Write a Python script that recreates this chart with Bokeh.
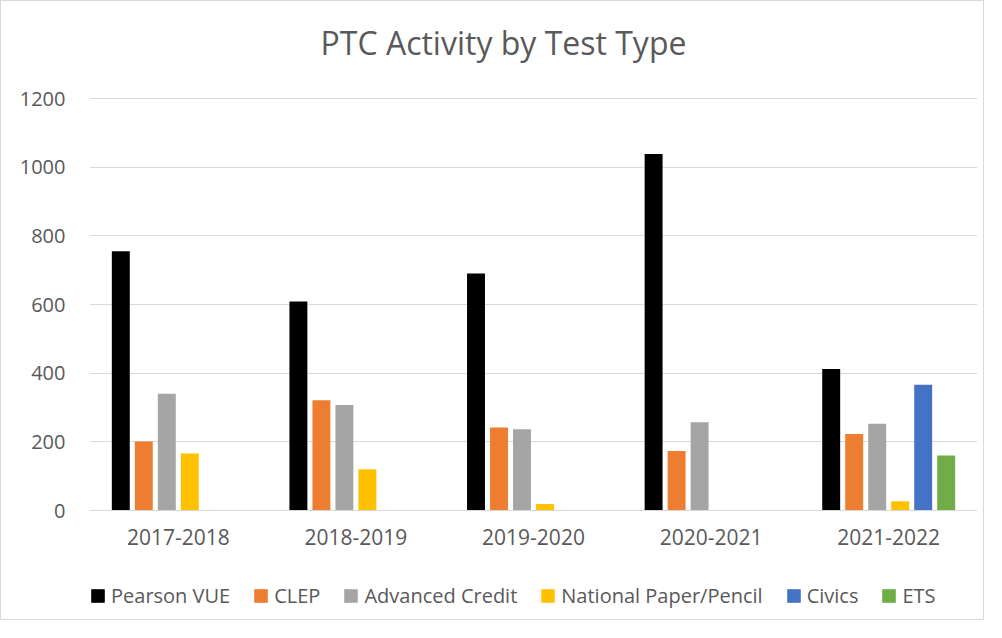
from bokeh.plotting import figure
from bokeh.models import ColumnDataSource, FactorRange, Range1d, Legend, LegendItem, Label
from bokeh.transform import dodge
from bokeh.embed import file_html
from bokeh.resources import INLINE

years = ["2017-2018", "2018-2019", "2019-2020", "2020-2021", "2021-2022"]
series = ["Pearson VUE", "CLEP", "Advanced Credit", "National Paper/Pencil", "Civics", "ETS"]
pearson_vue = [755, 609, 690, 1038, 412]
clep = [201, 321, 242, 173, 223]
advanced_credit = [340, 307, 237, 257, 253]
national_paper_pencil = [166, 120, 19, 0, 27]
civics = [0, 0, 0, 0, 366]
ets = [0, 0, 0, 0, 160]
colors = ["#000000", "#ED7D31", "#A5A5A5", "#FFC000", "#4472C4", "#70AD47"]
y_ticks = [0, 200, 400, 600, 800, 1000, 1200]
title_text = "PTC Activity by Test Type"

FONT = "Open Sans"
TXT = "#595959"
GRID = "#d9d9d9"

values = [pearson_vue, clep, advanced_credit, national_paper_pencil, civics, ets]
data = {"year": years}
keys = ["s%d" % i for i in range(len(series))]
for k, v in zip(keys, values):
    data[k] = v
source = ColumnDataSource(data)

# layout in pixels: frame fills the figure vertically; value axis spans 412 px
W, H = 984, 620
top_px, plot_px = 97, 412
bottom_px = H - top_px - plot_px
ymax_v = max(y_ticks)
upp = ymax_v / plot_px
y_range = Range1d(-bottom_px * upp, ymax_v + top_px * upp)

p = figure(x_range=FactorRange(*years, range_padding=0), y_range=y_range,
           width=W, height=H, output_backend="svg", toolbar_location=None,
           min_border_left=88, min_border_right=8, min_border_top=0, min_border_bottom=0)
p.styles = {"border": "1px solid #d9d9d9"}

slot = 0.1295
bw = 0.101
renderers = []
for i, (k, c) in enumerate(zip(keys, colors)):
    r = p.vbar(x=dodge("year", (i - 2.5) * slot, range=p.x_range), top=k, bottom=0, width=bw,
               source=source, fill_color=c, line_color=None)
    renderers.append(r)

p.title = None
p.add_layout(Label(x=414, y=H - 41, x_units="screen", y_units="screen", text=title_text,
                   text_align="center", text_baseline="middle", text_font=FONT,
                   text_font_size="32px", text_color=TXT))

p.xgrid.grid_line_color = None
p.ygrid.grid_line_color = GRID
p.ygrid.grid_line_width = 1
p.ygrid.ticker = y_ticks
p.yaxis.ticker = y_ticks
p.yaxis.axis_line_color = None
p.yaxis.major_tick_line_color = None
p.yaxis.minor_tick_line_color = None
p.yaxis.major_tick_out = 0
p.yaxis.major_tick_in = 0
p.yaxis.major_label_standoff = 24
p.xaxis.fixed_location = 0
p.xaxis.axis_line_color = GRID
p.xaxis.major_tick_line_color = None
p.xaxis.minor_tick_line_color = None
p.xaxis.major_tick_out = 0
p.xaxis.major_tick_in = 0
p.xaxis.major_label_standoff = 18
p.yaxis.major_label_text_font_size = "20px"
p.xaxis.major_label_text_font_size = "21px"
for ax in (p.xaxis, p.yaxis):
    ax.major_label_text_font = FONT
    ax.major_label_text_color = TXT
p.outline_line_color = None

legend = Legend(items=[LegendItem(label=s, renderers=[r]) for s, r in zip(series, renderers)],
                orientation="horizontal", location=(0, 12),
                label_text_font=FONT, label_text_font_size="20px", label_text_color=TXT,
                glyph_width=17, glyph_height=17, label_standoff=5, spacing=22,
                padding=0, margin=0, border_line_color=None, background_fill_alpha=0)
p.add_layout(legend, "center")

open("out.html", "w").write(file_html(p, INLINE))
